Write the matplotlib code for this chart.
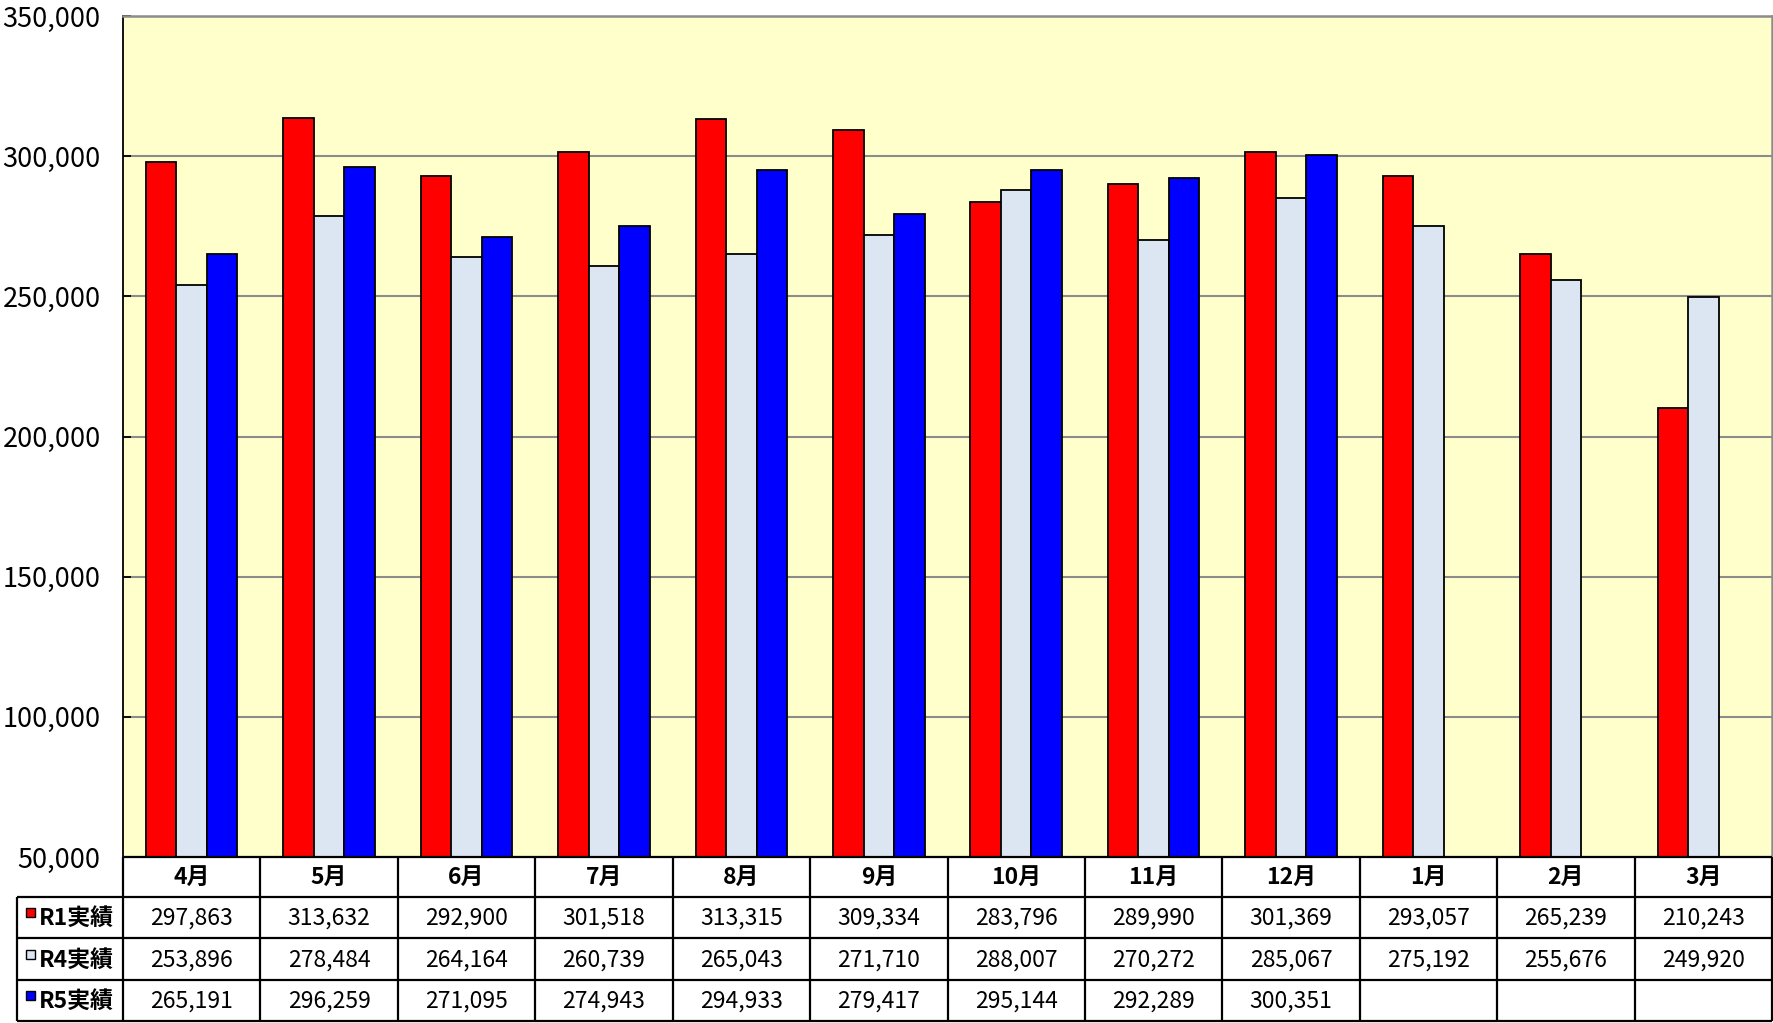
import matplotlib
matplotlib.use("Agg")
import matplotlib.pyplot as plt
import numpy as np

plt.rcParams['font.family'] = ['Noto Sans CJK JP', 'DejaVu Sans']

######################
# data

months = ['4月', '5月', '6月', '7月', '8月', '9月', '10月', '11月', '12月', '1月', '2月', '3月']
series_names = ['R1実績', 'R4実績', 'R5実績']
r1 = [297863, 313632, 292900, 301518, 313315, 309334, 283796, 289990, 301369, 293057, 265239, 210243]
r4 = [253896, 278484, 264164, 260739, 265043, 271710, 288007, 270272, 285067, 275192, 255676, 249920]
r5 = [265191, 296259, 271095, 274943, 294933, 279417, 295144, 292289, 300351, None, None, None]
yticks = [50000, 100000, 150000, 200000, 250000, 300000, 350000]

######################

colors = ['#FF0000', '#DCE6F2', '#0000FF']
bg = '#FFFFCC'
grid_c = '#8C8C8C'

W, H = 1773, 1023
fig = plt.figure(figsize=(W / 100, H / 100), dpi=100)

# pixel layout
px_left, px_right = 123, 1772
px_top, px_bottom = 16, 857
ax = fig.add_axes([px_left / W, 1 - px_bottom / H, (px_right - px_left) / W, (px_bottom - px_top) / H])
ax.set_facecolor(bg)

x = np.arange(len(months))
bw = 0.222
all_series = [r1, r4, r5]
for i, s in enumerate(all_series):
    vals = np.array([np.nan if v is None else v for v in s], dtype=float)
    ax.bar(x + (i - 1) * bw, vals, width=bw, color=colors[i], edgecolor='black',
           linewidth=1.3, zorder=3)

ax.set_xlim(-0.5, len(months) - 0.5)
ax.set_ylim(50000, 350000)
ax.set_yticks(yticks)
ax.set_yticklabels([f'{v:,}' for v in yticks], fontsize=19.5)
ax.set_xticks([])
ax.yaxis.grid(True, color=grid_c, linewidth=1.5, zorder=0)
ax.tick_params(axis='y', direction='in', length=6, width=1.3, pad=16)

ax.spines['left'].set_color('black')
ax.spines['left'].set_linewidth(1.3)
for sp in ['top', 'right']:
    ax.spines[sp].set_color(grid_c)
    ax.spines[sp].set_linewidth(1.8)
ax.spines['bottom'].set_visible(False)

# table under the plot, drawn in pixel coords
tab = fig.add_axes([0, 0, 1, 1], facecolor='none')
tab.set_xlim(0, W)
tab.set_ylim(H, 0)
tab.axis('off')

lab_left = 17
row_edges = [857, 897, 938, 980, 1021]
col_w = (px_right - px_left) / len(months)
col_edges = [px_left + i * col_w for i in range(len(months) + 1)]
lw = 1.6

tab.hlines(row_edges[0], px_left, px_right, color='black', linewidth=lw)
tab.hlines(row_edges[1:], lab_left, px_right, color='black', linewidth=lw)
tab.vlines(col_edges, row_edges[0], row_edges[-1], color='black', linewidth=lw)
tab.vlines(lab_left, row_edges[1], row_edges[-1], color='black', linewidth=lw)

for j, m in enumerate(months):
    cx = (col_edges[j] + col_edges[j + 1]) / 2
    tab.text(cx, (row_edges[0] + row_edges[1]) / 2, m, ha='center', va='center',
             fontsize=16.5, fontweight='bold')

for i, s in enumerate(all_series):
    cy = (row_edges[i + 1] + row_edges[i + 2]) / 2
    tab.add_patch(plt.Rectangle((26, cy - 9.5), 9, 9, facecolor=colors[i],
                                edgecolor='black', linewidth=1.0))
    tab.text(39, cy + 1, series_names[i], ha='left', va='center', fontsize=16.5,
             fontweight='bold')
    for j, v in enumerate(s):
        if v is None:
            continue
        cx = (col_edges[j] + col_edges[j + 1]) / 2
        tab.text(cx, cy + 1, f'{v:,}', ha='center', va='center', fontsize=16.5)

fig.savefig('out.png', dpi=100)
